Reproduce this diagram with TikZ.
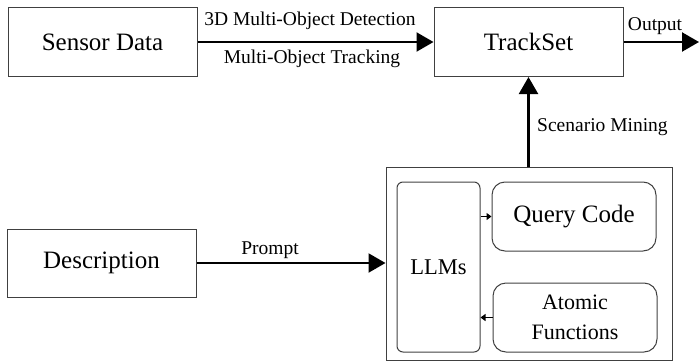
\documentclass[tikz,border=0pt]{standalone}
\usepackage{fontspec}
\setmainfont{Liberation Serif}
\usetikzlibrary{arrows.meta}
\definecolor{boxgray}{HTML}{404040}
\tikzset{
  blockbox/.style={draw=boxgray, line width=1pt, minimum width=189pt, minimum height=69pt, inner sep=0pt,
    font=\fontsize{25}{30}\selectfont},
  roundbox/.style={draw=boxgray, line width=1pt, inner sep=0pt, rounded corners=13pt, align=center},
  bigarrow/.style={line width=2.2pt, -{Triangle[length=17pt, width=19pt]}},
  smallarrow/.style={line width=1.4pt, -{Triangle[length=5pt, width=7pt]}},
  lab/.style={font=\fontsize{19.5}{23}\selectfont, inner sep=0pt},
}
\begin{document}
\begin{tikzpicture}[x=1pt, y=-1pt]
\useasboundingbox (0,0) rectangle (699,362);
% main blocks
\node[blockbox] (sensor) at (102.5,42) {Sensor Data};
\node[blockbox] (track) at (528.5,42) {TrackSet};
\node[blockbox, minimum height=68pt] (desc) at (101.5,263) {Description};
\node[draw=boxgray, line width=1pt, minimum width=286pt, minimum height=193pt, inner sep=0pt] (big) at (529,264) {};
% inner blocks
\node[roundbox, rounded corners=6pt, minimum width=83pt, minimum height=170pt, font=\fontsize{22.5}{27}\selectfont] (llm) at (438.5,267) {LLMs};
\node[roundbox, minimum width=164pt, minimum height=69pt, font=\fontsize{25}{30}\selectfont] (query) at (574,216.5) {Query Code};
\node[roundbox, minimum width=164pt, minimum height=69pt, font=\fontsize{22}{30}\selectfont] (atomic) at (575,317.5) {Atomic\\Functions};
\coordinate (outend) at (699,42);
% connectors
\draw[bigarrow] (sensor.east) -- (track.west);
\draw[bigarrow] (track.east) -- (outend);
\draw[bigarrow] (big.north -| track.south) -- (track.south);
\draw[bigarrow] (desc.east) -- (desc.east -| big.west);
\draw[smallarrow] (llm.east |- query.west) -- (query.west);
\draw[smallarrow] (atomic.west) -- (atomic.west -| llm.east);
% labels
\node[lab] (l1) at (310,21) {3D Multi-Object Detection};
\node[lab] (l2) at (312,59) {Multi-Object Tracking};
\node[lab] (l3) at (655,26) {Output};
\node[lab, anchor=west] (l4) at (537,127) {Scenario Mining};
\node[lab] (l5) at (270,250) {Prompt};
\end{tikzpicture}
\end{document}
